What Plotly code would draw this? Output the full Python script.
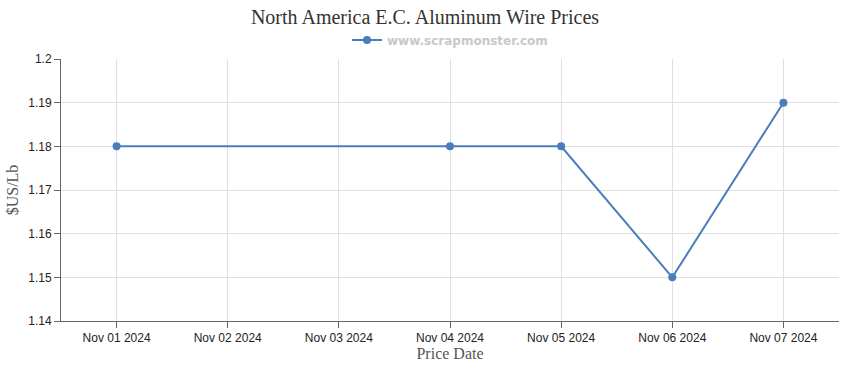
import plotly.graph_objects as go

dates = ["2024-11-01", "2024-11-04", "2024-11-05", "2024-11-06", "2024-11-07"]
prices = [1.18, 1.18, 1.18, 1.15, 1.19]
tick_dates = ["2024-11-01", "2024-11-02", "2024-11-03", "2024-11-04", "2024-11-05", "2024-11-06", "2024-11-07"]
tick_labels = ["Nov 01 2024", "Nov 02 2024", "Nov 03 2024", "Nov 04 2024", "Nov 05 2024", "Nov 06 2024", "Nov 07 2024"]
y_ticks = [1.14, 1.15, 1.16, 1.17, 1.18, 1.19, 1.2]

color = "#4a7ebb"
serif = "Liberation Serif, Times New Roman, serif"
sans = "Liberation Sans, Arial, sans-serif"

fig = go.Figure()
fig.add_trace(go.Scatter(
    x=dates, y=prices, mode="lines+markers", name="www.scrapmonster.com",
    line=dict(color=color, width=2), marker=dict(color=color, size=8),
    showlegend=True,
))

H = 370
fig.update_layout(
    width=850, height=H,
    margin=dict(l=61, r=11, t=59, b=49, autoexpand=False),
    paper_bgcolor="white", plot_bgcolor="white",
    title=dict(text="North America E.C. Aluminum Wire Prices", x=0.5, xanchor="center",
               y=1 - 17 / H, yanchor="middle", font=dict(family=serif, size=20, color="#333333")),
    legend=dict(orientation="h", x=0.5, xanchor="center", y=1 - 40 / H, yanchor="middle",
                yref="container", font=dict(family="DejaVu Sans", size=12, color="#c8c8c8", weight="bold"),
                itemwidth=30, bgcolor="rgba(0,0,0,0)"),
    xaxis=dict(type="date", range=["2024-10-31 12:00", "2024-11-07 12:00"],
               tickvals=tick_dates, ticktext=tick_labels,
               showgrid=True, gridcolor="#e0e0e0", gridwidth=1,
               showline=True, linecolor="#666666", linewidth=1,
               ticks="outside", ticklen=6, tickcolor="#666666",
               tickfont=dict(family=sans, size=12, color="#222222"),
               title=dict(text="Price Date", font=dict(family=serif, size=16, color="#555555"), standoff=0),
               zeroline=False, fixedrange=True),
    yaxis=dict(range=[1.14, 1.2], tickvals=y_ticks, ticktext=["1.14", "1.15", "1.16", "1.17", "1.18", "1.19", "1.2"],
               showgrid=True, gridcolor="#e0e0e0", gridwidth=1,
               showline=True, linecolor="#666666", linewidth=1,
               ticks="outside", ticklen=6, tickcolor="#666666",
               tickfont=dict(family=sans, size=12, color="#222222"),
               title=dict(text="$US/Lb", font=dict(family=serif, size=16, color="#555555"), standoff=5),
               zeroline=False, fixedrange=True),
)

fig.write_html("out.html", config={"displayModeBar": False},
               post_script="document.body.style.margin='0';")
